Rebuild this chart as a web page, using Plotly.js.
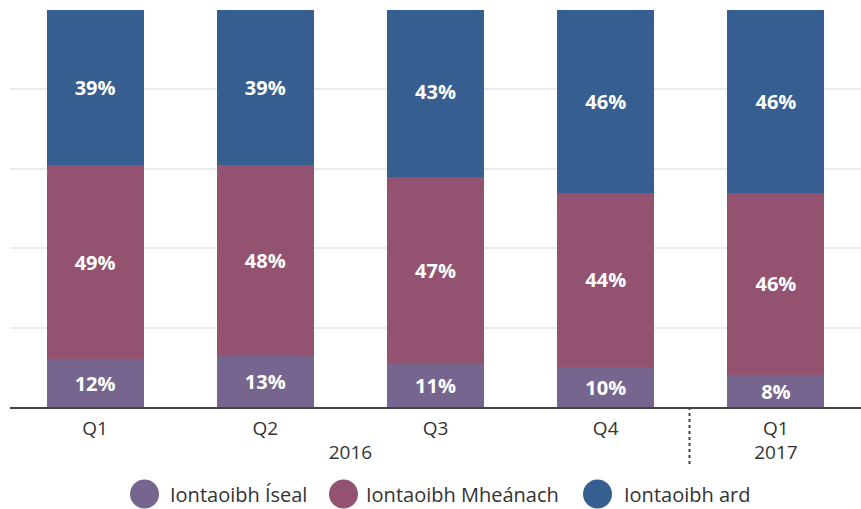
<!DOCTYPE html>
<html>
<head>
<meta charset="utf-8">
<script src="https://cdn.plot.ly/plotly-3.0.1.min.js"></script>
<style>html,body{margin:0;padding:0;background:#fff;}#chart{width:861px;height:509px;}</style>
</head>
<body>
<div id="chart"></div>
<script>
const years = ['2016', '2016', '2016', '2016', '2017'];
const quarters = ['Q1', 'Q2', 'Q3', 'Q4', 'Q1'];
const seriesNames = ['Iontaoibh Íseal', 'Iontaoibh Mheánach', 'Iontaoibh ard'];
const lowValues = [12, 13, 11, 10, 8];
const midValues = [49, 48, 47, 44, 46];
const highValues = [39, 39, 43, 46, 46];
const colors = ['#76668F', '#93526F', '#375E91'];

const seriesValues = [lowValues, midValues, highValues];
const traces = seriesValues.map((vals, i) => ({
  type: 'bar',
  name: seriesNames[i],
  x: [years, quarters],
  y: vals,
  text: vals.map(v => v + '%'),
  texttemplate: '%{text}',
  textposition: 'inside',
  insidetextanchor: 'middle',
  constraintext: 'none',
  textfont: {family: 'Open Sans', size: 20, color: '#ffffff', weight: 'bold'},
  marker: {color: colors[i], line: {width: 0}},
  showlegend: false,
  hoverinfo: 'skip'
}));

// manual legend
const plotTop = 10, plotBottom = 407, plotLeft = 10, plotRight = 861;
const ph = plotBottom - plotTop, pw = plotRight - plotLeft;
const legendY = (plotBottom - 494) / ph;
const legendCircleX = [144.5, 343.5, 597.5];
const legendTextOffset = [23.5, 20.5, 24.5];
const shapes = [];
const annotations = [];
legendCircleX.forEach((cx, i) => {
  shapes.push({
    type: 'circle', xref: 'paper', yref: 'paper',
    xsizemode: 'pixel', ysizemode: 'pixel',
    xanchor: (cx - plotLeft) / pw, yanchor: legendY,
    x0: -14.5, x1: 14.5, y0: -14.5, y1: 14.5,
    fillcolor: colors[i], line: {width: 0}
  });
  annotations.push({
    xref: 'paper', yref: 'paper',
    x: (cx + legendTextOffset[i] - plotLeft) / pw, y: legendY,
    xanchor: 'left', yanchor: 'middle',
    text: seriesNames[i], showarrow: false,
    font: {family: 'Open Sans', size: 20, color: '#333333'}
  });
});
// dotted year divider
shapes.push({
  type: 'line', xref: 'paper', yref: 'paper',
  x0: (689.5 - plotLeft) / pw, x1: (689.5 - plotLeft) / pw,
  y0: 0, y1: (plotBottom - 466) / ph,
  line: {color: '#444444', width: 2, dash: 'dot'}
});

const layout = {
  width: 861, height: 509,
  margin: {l: plotLeft, r: 861 - plotRight, t: plotTop, b: 509 - plotBottom},
  paper_bgcolor: '#ffffff', plot_bgcolor: '#ffffff',
  barmode: 'stack',
  bargap: 0.43,
  showlegend: false,
  xaxis: {
    type: 'multicategory',
    showdividers: false,
    ticks: '',
    ticklabelstandoff: 4,
    showgrid: false,
    showline: true, linecolor: '#444444', linewidth: 1.5,
    tickfont: {family: 'Open Sans', size: 19, color: '#333333'},
    fixedrange: true
  },
  yaxis: {
    range: [0, 100],
    dtick: 20, tick0: 0,
    showticklabels: false,
    ticks: '',
    showgrid: true, gridcolor: '#ebebeb', gridwidth: 2,
    zeroline: false,
    fixedrange: true
  },
  shapes: shapes,
  annotations: annotations
};

Plotly.newPlot('chart', traces, layout, {staticPlot: true, displayModeBar: false});
</script>
</body>
</html>
